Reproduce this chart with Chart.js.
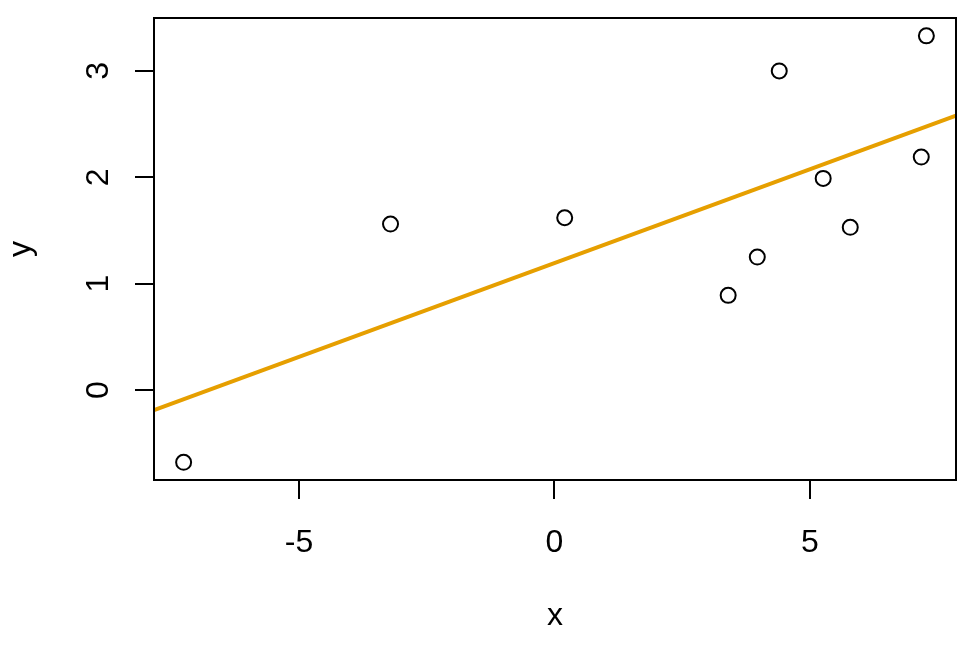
<!DOCTYPE html>
<html>
<head>
<meta charset="utf-8">
<script src="https://cdn.jsdelivr.net/npm/chart.js@4/dist/chart.umd.min.js"></script>
<style>
  html, body { margin: 0; padding: 0; background: #fff; }
  canvas { display: block; }
</style>
</head>
<body>
<canvas id="plot" width="960" height="672"></canvas>
<script>
// data
const xVals = [-7.26, -3.21, 0.20, 3.40, 3.97, 4.40, 5.26, 5.79, 7.18, 7.28];
const yVals = [-0.68, 1.56, 1.62, 0.89, 1.25, 3.00, 1.99, 1.53, 2.19, 3.33];
const fitX = [-7.84, 7.86];   // ends of the fitted line
const fitY = [-0.19, 2.58];
const xTicks = [-5, 0, 5];
const yTicks = [0, 1, 2, 3];
const xTitle = 'x';
const yTitle = 'y';

const FONT = '32px "Liberation Sans", Arial, Helvetica, sans-serif';

// box + tick labels + titles, drawn like base R does
const rAxes = {
    id: 'rAxes',
    afterDraw(chart) {
        const ctx = chart.ctx;
        const a = chart.chartArea;
        const sx = chart.scales.x, sy = chart.scales.y;
        ctx.save();
        ctx.strokeStyle = '#000';
        ctx.lineWidth = 2;
        ctx.strokeRect(a.left, a.top, a.right - a.left, a.bottom - a.top);

        ctx.fillStyle = '#000';
        ctx.font = FONT;
        ctx.textAlign = 'center';
        ctx.textBaseline = 'alphabetic';
        xTicks.forEach(v => {
            ctx.fillText(String(v), sx.getPixelForValue(v), 552);
        });
        yTicks.forEach(v => {
            ctx.save();
            ctx.translate(108, sy.getPixelForValue(v));
            ctx.rotate(-Math.PI / 2);
            ctx.fillText(String(v), 0, 0);
            ctx.restore();
        });
        ctx.fillText(xTitle, (a.left + a.right) / 2, 625);
        ctx.save();
        ctx.translate(30, (a.top + a.bottom) / 2);
        ctx.rotate(-Math.PI / 2);
        ctx.fillText(yTitle, 0, 0);
        ctx.restore();
        ctx.restore();
    }
};

const tickGrid = {
    display: true,
    drawOnChartArea: false,
    drawTicks: true,
    tickLength: 19,
    color: '#000',
    lineWidth: 2
};

new Chart(document.getElementById('plot'), {
    type: 'scatter',
    data: {
        datasets: [
            {
                type: 'line',
                data: fitX.map((x, i) => ({ x: x, y: fitY[i] })),
                borderColor: '#E69F00',
                borderWidth: 4,
                pointRadius: 0,
                fill: false,
                order: 2
            },
            {
                data: xVals.map((x, i) => ({ x: x, y: yVals[i] })),
                pointStyle: 'circle',
                pointRadius: 7.5,
                borderWidth: 2,
                borderColor: '#000',
                backgroundColor: 'rgba(0,0,0,0)',
                order: 1
            }
        ]
    },
    options: {
        responsive: false,
        animation: false,
        events: [],
        layout: { autoPadding: false, padding: { top: 18, right: 4, left: 0, bottom: 0 } },
        plugins: { legend: { display: false }, tooltip: { enabled: false } },
        scales: {
            x: {
                type: 'linear',
                position: 'bottom',
                min: -7.84,
                max: 7.86,
                afterBuildTicks: s => { s.ticks = xTicks.map(v => ({ value: v })); },
                afterFit: s => { s.height = 192; },
                ticks: { display: false },
                grid: tickGrid,
                border: { display: false }
            },
            y: {
                type: 'linear',
                position: 'left',
                min: -0.846,
                max: 3.498,
                afterBuildTicks: s => { s.ticks = yTicks.map(v => ({ value: v })); },
                afterFit: s => { s.width = 154; },
                ticks: { display: false },
                grid: tickGrid,
                border: { display: false }
            }
        }
    },
    plugins: [rAxes]
});
</script>
</body>
</html>
